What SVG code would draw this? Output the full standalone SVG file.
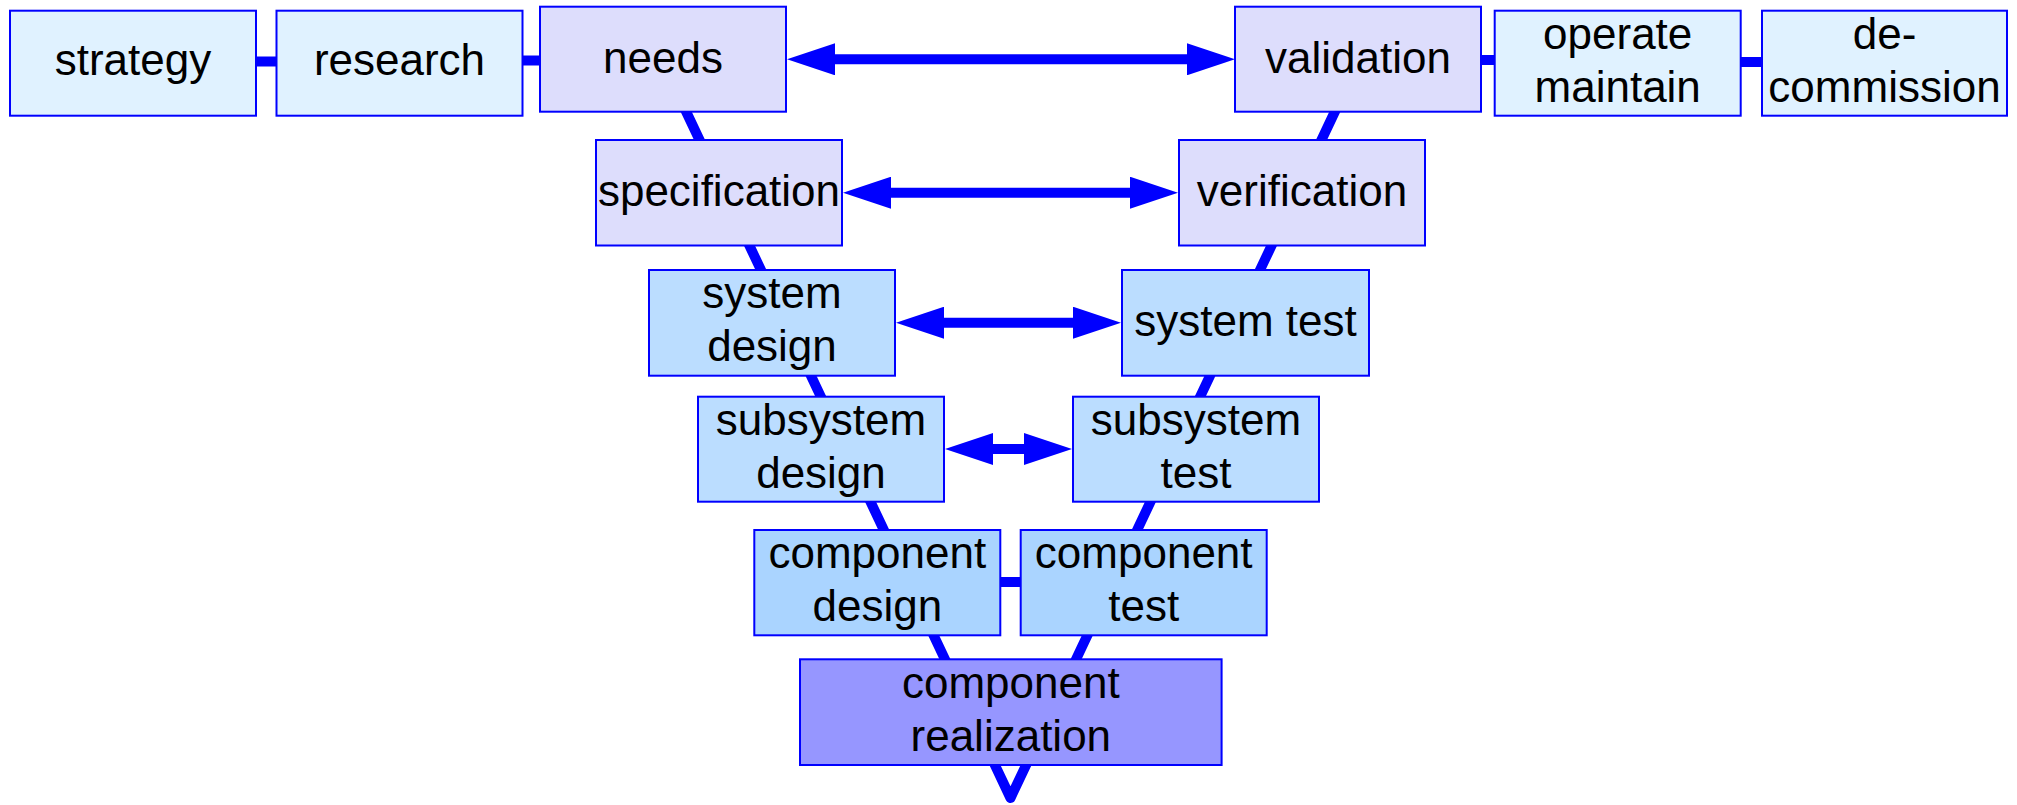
<svg xmlns="http://www.w3.org/2000/svg" width="2017" height="805" viewBox="0 0 2017 805">
<style>
  .box { stroke: #0000FF; stroke-width: 2; }
  .l1 { fill: #E0F2FF; }
  .l2 { fill: #DDDDFC; }
  .l3 { fill: #BBDDFF; }
  .l4 { fill: #AAD4FF; }
  .l5 { fill: #9696FF; }
  text { font-family: "Liberation Sans", Arial, sans-serif; font-size: 44px; fill: #000; text-anchor: middle; }
  .conn { stroke: #0000FF; stroke-width: 10; fill: none; }
</style>
<defs>
  <marker id="head" markerUnits="userSpaceOnUse" markerWidth="48" markerHeight="32" viewBox="0 -16 48 32" refX="0" refY="0" orient="auto-start-reverse">
    <path d="M0,-16 L48,0 L0,16 z" fill="#0000FF"/>
  </marker>
</defs>
<rect width="2017" height="805" fill="#FFFFFF"/>
<g id="connectors">
  <polyline class="conn" stroke-linejoin="round" points="683,105 1010.5,798 1338,105"/>
  <line class="conn" x1="256" y1="61.5" x2="277" y2="61.5"/>
  <line class="conn" x1="522" y1="60.5" x2="541" y2="60.5"/>
  <line class="conn" x1="1480" y1="60" x2="1495" y2="60"/>
  <line class="conn" x1="1740" y1="62" x2="1762" y2="62"/>
  <line class="conn" stroke-width="9" stroke-linecap="round" x1="1000" y1="582" x2="1021" y2="582"/>
  <line class="conn" marker-start="url(#head)" marker-end="url(#head)" x1="835" y1="59.3" x2="1187" y2="59.3"/>
  <line class="conn" marker-start="url(#head)" marker-end="url(#head)" x1="891" y1="192.7" x2="1130" y2="192.7"/>
  <line class="conn" marker-start="url(#head)" marker-end="url(#head)" x1="944" y1="322.7" x2="1073" y2="322.7"/>
  <line class="conn" marker-start="url(#head)" marker-end="url(#head)" x1="993" y1="449" x2="1024" y2="449"/>
</g>
<g id="strategy">
  <rect class="box l1" x="10" y="10.7" width="246" height="105"/>
  <text x="133" y="75">strategy</text>
</g>
<g id="research">
  <rect class="box l1" x="276.5" y="10.7" width="246" height="105"/>
  <text x="399.5" y="75">research</text>
</g>
<g id="needs">
  <rect class="box l2" x="540" y="6.7" width="246" height="105"/>
  <text x="663" y="72.7">needs</text>
</g>
<g id="validation">
  <rect class="box l2" x="1235" y="6.7" width="246" height="105"/>
  <text x="1358" y="72.7">validation</text>
</g>
<g id="operate-maintain">
  <rect class="box l1" x="1494.7" y="10.7" width="246" height="105"/>
  <text x="1617.7" y="48.5">operate</text>
  <text x="1617.7" y="101.9">maintain</text>
</g>
<g id="decommission">
  <rect class="box l1" x="1762" y="10.7" width="245" height="105"/>
  <text x="1884.5" y="48.5">de-</text>
  <text x="1884.5" y="101.9">commission</text>
</g>
<g id="specification">
  <rect class="box l2" x="596" y="140" width="246" height="105.5"/>
  <text x="719" y="206">specification</text>
</g>
<g id="verification">
  <rect class="box l2" x="1179" y="140" width="246" height="105.5"/>
  <text x="1302" y="206">verification</text>
</g>
<g id="system-design">
  <rect class="box l3" x="649" y="270" width="246" height="105.7"/>
  <text x="772" y="308">system</text>
  <text x="772" y="361.4">design</text>
</g>
<g id="system-test">
  <rect class="box l3" x="1122" y="270" width="247" height="105.7"/>
  <text x="1245.5" y="335.7">system test</text>
</g>
<g id="subsystem-design">
  <rect class="box l3" x="698" y="396.7" width="246" height="105"/>
  <text x="821" y="434.5">subsystem</text>
  <text x="821" y="487.9">design</text>
</g>
<g id="subsystem-test">
  <rect class="box l3" x="1073" y="396.7" width="246" height="105"/>
  <text x="1196" y="434.5">subsystem</text>
  <text x="1196" y="487.9">test</text>
</g>
<g id="component-design">
  <rect class="box l4" x="754.3" y="530" width="246" height="105.3"/>
  <text x="877.3" y="567.9">component</text>
  <text x="877.3" y="621.3">design</text>
</g>
<g id="component-test">
  <rect class="box l4" x="1020.7" y="530" width="246" height="105.3"/>
  <text x="1143.7" y="567.9">component</text>
  <text x="1143.7" y="621.3">test</text>
</g>
<g id="component-realization">
  <rect class="box l5" x="800" y="659.3" width="421.6" height="105.7"/>
  <text x="1010.8" y="697.5">component</text>
  <text x="1010.8" y="750.9">realization</text>
</g>
</svg>
